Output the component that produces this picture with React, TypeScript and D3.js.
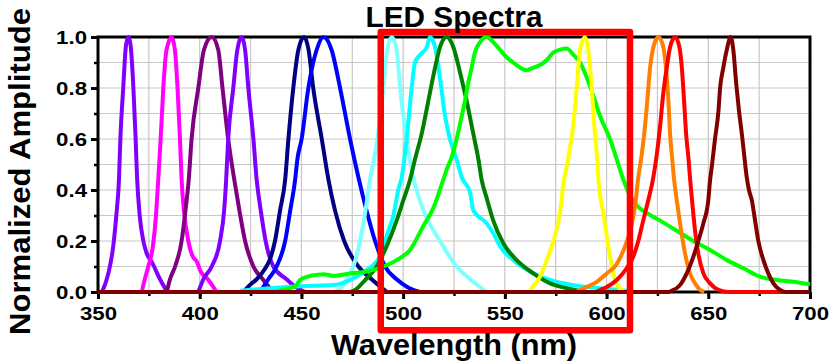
import React, { useEffect, useRef } from 'react';
import * as d3 from 'd3';

// spectra: [wavelength nm, normalized amplitude]
const uv365: [number, number][] = [[352,0],[355,0.07],[357.5,0.18],[359,0.3],[360.3,0.44],[361,0.6],[362.4,0.8],[363.8,0.97],[365,1],[366,0.97],[367.4,0.8],[368.5,0.6],[369.2,0.45],[370.5,0.3],[372.3,0.2],[374,0.15],[376.3,0.12],[380.5,0.05],[384,0]];
const magenta386: [number, number][] = [[371.5,0],[373,0.05],[374.7,0.1],[377,0.18],[378.5,0.3],[379.6,0.44],[380.8,0.6],[382.1,0.8],[383.7,0.95],[386.2,1],[387.8,0.95],[389.1,0.8],[390.3,0.6],[391.1,0.44],[392.5,0.3],[394.4,0.2],[396.5,0.14],[398.5,0.12],[400.5,0.08],[404,0.05],[408.3,0]];
const purple406: [number, number][] = [[383.8,0],[385.4,0.05],[387.9,0.1],[391.1,0.2],[393,0.32],[394.6,0.44],[396,0.6],[399.3,0.8],[402.1,0.95],[405.9,1],[409.1,0.95],[411.2,0.8],[414,0.6],[417,0.44],[419.5,0.32],[422.3,0.2],[426.4,0.1],[431,0.05],[436,0]];
const violet420: [number, number][] = [[399.3,0],[401.8,0.05],[405.9,0.1],[410,0.2],[412,0.32],[413,0.44],[414,0.6],[416.5,0.8],[418.5,0.95],[420.6,1],[422.3,0.95],[423.9,0.8],[426.4,0.6],[428,0.44],[430,0.32],[432.4,0.2],[436.2,0.1],[442.7,0.05],[447,0.02],[452,0]];
const navy451: [number, number][] = [[421.4,0],[425,0.03],[428,0.05],[432,0.09],[434.6,0.13],[437,0.2],[439.5,0.32],[442,0.44],[443.6,0.6],[446,0.8],[448.5,0.95],[451.3,1],[453.5,0.95],[455.8,0.8],[460,0.6],[463.3,0.44],[466.5,0.32],[471,0.2],[478,0.1],[484.5,0.05],[492,0]];
const blue460: [number, number][] = [[429.6,0],[433.7,0.05],[437.8,0.1],[442,0.2],[444.5,0.32],[446.9,0.44],[448,0.52],[450.1,0.6],[453.4,0.8],[457.5,0.95],[460.8,1],[464.8,0.95],[469,0.8],[473.9,0.6],[478,0.45],[482,0.32],[486.2,0.2],[491.1,0.1],[496.8,0.05],[502,0.02],[508.3,0]];
const cyanLight495: [number, number][] = [[466,0],[470,0.02],[472.2,0.05],[475.5,0.1],[478.8,0.2],[481.5,0.32],[483.7,0.44],[487.4,0.6],[490.3,0.8],[492.2,0.95],[494.4,1],[496.8,0.95],[498.5,0.8],[501.7,0.6],[505,0.45],[510,0.32],[518.1,0.2],[526.3,0.1],[532.9,0.05],[541,0]];
const cyan513: [number, number][] = [[420,0.005],[430,0.012],[440,0.018],[449,0.023],[465.7,0.027],[473.9,0.047],[482,0.086],[488.6,0.14],[492.7,0.24],[495.2,0.3],[497.6,0.4],[499.3,0.45],[501.7,0.6],[504.2,0.8],[505.8,0.9],[508.3,0.93],[511.6,0.96],[513.2,1],[515.7,0.96],[518.1,0.84],[520.6,0.69],[523,0.6],[526.3,0.52],[528.8,0.45],[532.9,0.39],[534.5,0.32],[541,0.27],[544.3,0.23],[547.6,0.18],[554.1,0.125],[564,0.073],[572.2,0.047],[583.7,0.027],[596.8,0.015],[610,0.005]];
const green522: [number, number][] = [[474,0],[476.4,0.008],[481.3,0.047],[487,0.1],[491.9,0.18],[496.8,0.28],[500.1,0.36],[503.4,0.44],[505.8,0.52],[509.1,0.62],[512.4,0.75],[515.7,0.88],[518.1,0.96],[521.4,1],[524.7,0.96],[528,0.86],[531.2,0.75],[534.5,0.62],[537,0.52],[538.6,0.44],[541,0.37],[544.3,0.28],[549.3,0.19],[555.8,0.125],[564,0.073],[572.2,0.034],[580.4,0.015],[590,0]];
const lime541: [number, number][] = [[437,0],[442,0.01],[447,0.023],[449.3,0.047],[453,0.06],[457.5,0.067],[461,0.07],[465.7,0.063],[473.9,0.073],[482.1,0.08],[490.3,0.1],[496.8,0.125],[503.4,0.165],[510,0.26],[514.9,0.33],[519.7,0.44],[521.4,0.48],[523.9,0.53],[526.3,0.6],[528.8,0.69],[530.4,0.75],[532,0.82],[533.7,0.88],[535.3,0.94],[537.8,0.98],[541,1],[544.3,0.98],[547.6,0.95],[550.9,0.92],[554.1,0.9],[557.5,0.88],[560.7,0.87],[564,0.88],[567.3,0.89],[570.6,0.91],[573.9,0.94],[577.1,0.95],[580.4,0.955],[583.7,0.93],[587,0.9],[590.3,0.84],[593.5,0.77],[596.8,0.69],[601.7,0.6],[605,0.52],[608.3,0.44],[610.8,0.39],[614.8,0.34],[619.7,0.31],[626.3,0.28],[634.5,0.24],[642.7,0.2],[650.9,0.165],[659.1,0.125],[667.3,0.093],[675.5,0.06],[683.7,0.047],[691.9,0.04],[700,0.03]];
const yellow589: [number, number][] = [[562,0],[563.2,0.015],[567.3,0.06],[570.6,0.125],[573.9,0.2],[577.1,0.31],[579.1,0.44],[580.4,0.49],[582.1,0.57],[583.7,0.66],[585.3,0.8],[587,0.95],[589.4,1],[591,0.95],[592.7,0.8],[593.9,0.66],[595.2,0.54],[596,0.44],[598.4,0.31],[600.9,0.18],[603.3,0.073],[605.8,0.02],[609,0]];
const orange626: [number, number][] = [[585,0],[587,0.008],[590.3,0.02],[595.2,0.04],[600.1,0.073],[605,0.11],[609.1,0.18],[611.6,0.24],[614,0.335],[615.6,0.45],[617.3,0.54],[618.9,0.65],[620,0.75],[621.4,0.88],[623,0.96],[625.5,1],[627.9,0.96],[629.2,0.88],[630.4,0.75],[631.2,0.62],[632.3,0.52],[633.2,0.44],[634.5,0.36],[636.1,0.27],[638.6,0.15],[641,0.073],[643.5,0.034],[646,0.008],[648,0]];
const red633: [number, number][] = [[595,0],[596.8,0.008],[600.1,0.02],[605,0.047],[609.9,0.093],[613.2,0.14],[615.6,0.2],[618,0.28],[620.5,0.36],[623,0.45],[624.7,0.54],[626.3,0.65],[627.9,0.78],[629.6,0.88],[631.2,0.96],[633.7,1],[635.8,0.96],[637,0.88],[638.1,0.75],[639.1,0.62],[640.3,0.52],[641.1,0.44],[642.3,0.335],[643.5,0.24],[645.1,0.15],[647.6,0.073],[650.9,0.034],[655,0.008],[660,0],[700,0]];
const maroon660: [number, number][] = [[350,0],[630,0],[632,0.005],[636.1,0.027],[639.4,0.073],[642.7,0.14],[645.1,0.2],[647.6,0.27],[650,0.36],[650.9,0.44],[651.7,0.49],[653.3,0.6],[655,0.71],[655.8,0.8],[657.4,0.88],[659.1,0.95],[661,1],[662.3,0.95],[663.7,0.82],[665.1,0.71],[666.5,0.62],[667.6,0.54],[668.9,0.45],[670,0.4],[671.4,0.36],[673,0.28],[674.6,0.2],[677.1,0.125],[679.5,0.073],[682,0.034],[685.3,0.008],[688,0],[700,0]];

const xMajorTicks = [350, 400, 450, 500, 550, 600, 650, 700];
const yMajorTicks = [0, 0.2, 0.4, 0.6, 0.8, 1.0];
const highlightBand = [489, 611.5]; // red box, nm

const series = [
  { data: uv365, color: '#8000ff' },
  { data: magenta386, color: '#ff00ff' },
  { data: purple406, color: '#800080' },
  { data: violet420, color: '#8000ff' },
  { data: navy451, color: '#000080' },
  { data: blue460, color: '#0000ff' },
  { data: cyanLight495, color: '#80ffff' },
  { data: cyan513, color: '#00ffff' },
  { data: green522, color: '#008000' },
  { data: lime541, color: '#00ff00' },
  { data: yellow589, color: '#ffff00' },
  { data: orange626, color: '#ff8000' },
  { data: red633, color: '#ff0000' },
  { data: maroon660, color: '#800000' },
];

const W = 834, H = 364;
const margin = { top: 37, right: 24, bottom: 72, left: 98 };
const FONT = '"Liberation Sans", Arial, sans-serif';

export default function App() {
  const gx = useRef<SVGGElement>(null);
  const gy = useRef<SVGGElement>(null);

  const x = d3.scaleLinear().domain([350, 700]).range([margin.left, W - margin.right]);
  const y = d3.scaleLinear().domain([0, 1]).range([H - margin.bottom, margin.top]);
  const line = d3.line<[number, number]>().x(d => x(d[0])).y(d => y(d[1])).curve(d3.curveMonotoneX);

  const xGrid = d3.range(350, 701, 25);
  const yGrid = d3.range(0, 11).map(i => i / 10);

  useEffect(() => {
    const stretch = function (this: SVGTextElement) {
      return this.getComputedTextLength() * 1.17;
    };
    const bx = d3.select(gx.current!);
    bx.selectAll('*').remove();
    bx.append('g').call(d3.axisBottom(x).tickValues(xGrid).tickSize(4).tickFormat(() => ''))
      .call(g => g.select('.domain').remove())
      .call(g => g.selectAll('line').attr('stroke-width', 2.5));
    bx.append('g').call(d3.axisBottom(x).tickValues(xMajorTicks).tickSize(7).tickFormat(d3.format('d')))
      .call(g => g.select('.domain').remove())
      .call(g => g.selectAll('line').attr('stroke-width', 3))
      .call(g => g.selectAll('text').attr('y', 28).attr('dy', null)
        .attr('font-family', FONT).attr('font-weight', 'bold').attr('font-size', 19).attr('fill', '#000')
        .attr('lengthAdjust', 'spacingAndGlyphs').attr('textLength', stretch));

    const by = d3.select(gy.current!);
    by.selectAll('*').remove();
    by.append('g').call(d3.axisLeft(y).tickValues(yGrid).tickSize(4).tickFormat(() => ''))
      .call(g => g.select('.domain').remove())
      .call(g => g.selectAll('line').attr('stroke-width', 2.5));
    by.append('g').call(d3.axisLeft(y).tickValues(yMajorTicks).tickSize(7).tickFormat(d3.format('.1f')))
      .call(g => g.select('.domain').remove())
      .call(g => g.selectAll('line').attr('stroke-width', 3))
      .call(g => g.selectAll('text').attr('x', -11).attr('dy', '0.36em')
        .attr('font-family', FONT).attr('font-weight', 'bold').attr('font-size', 19).attr('fill', '#000')
        .attr('lengthAdjust', 'spacingAndGlyphs').attr('textLength', stretch));
  }, []);

  const x0 = margin.left, x1 = W - margin.right, y0 = H - margin.bottom, y1 = margin.top;

  return (
    <svg width={W} height={H} style={{ position: 'absolute', left: 0, top: 0, background: '#fff' }}>
      <g stroke="#c8c8c8" strokeWidth={1.2}>
        {xGrid.map(v => <line key={'gx' + v} x1={x(v)} x2={x(v)} y1={y1} y2={y0} />)}
        {yGrid.map(v => <line key={'gy' + v} x1={x0} x2={x1} y1={y(v)} y2={y(v)} />)}
      </g>
      <g ref={gx} transform={`translate(0,${y0})`} />
      <g ref={gy} transform={`translate(${x0},0)`} />
      <rect x={x0} y={y1} width={x1 - x0} height={y0 - y1} fill="none" stroke="#000" strokeWidth={3} />
      <g fill="none" strokeWidth={4} strokeLinejoin="round">
        {series.map((s, i) => <path key={i} d={line(s.data) || ''} stroke={s.color} />)}
      </g>
      <rect x={x(highlightBand[0])} y={y(1.02)} width={x(highlightBand[1]) - x(highlightBand[0])} height={y(-0.15) - y(1.02)}
        fill="none" stroke="#ff0000" strokeWidth={6.5} strokeLinejoin="round" />
      <text x={(x0 + x1) / 2} y={27} textAnchor="middle" fontFamily={FONT} fontWeight="bold" fontSize={29}
        textLength={177} lengthAdjust="spacingAndGlyphs">LED Spectra</text>
      <text x={(x0 + x1) / 2} y={355} textAnchor="middle" fontFamily={FONT} fontWeight="bold" fontSize={29}
        textLength={246} lengthAdjust="spacingAndGlyphs">Wavelength (nm)</text>
      <text transform={`translate(29.5,${(y0 + y1) / 2 + 7}) rotate(-90)`} textAnchor="middle" fontFamily={FONT}
        fontWeight="bold" fontSize={30} textLength={327} lengthAdjust="spacingAndGlyphs">Normalized Amplitude</text>
    </svg>
  );
}
